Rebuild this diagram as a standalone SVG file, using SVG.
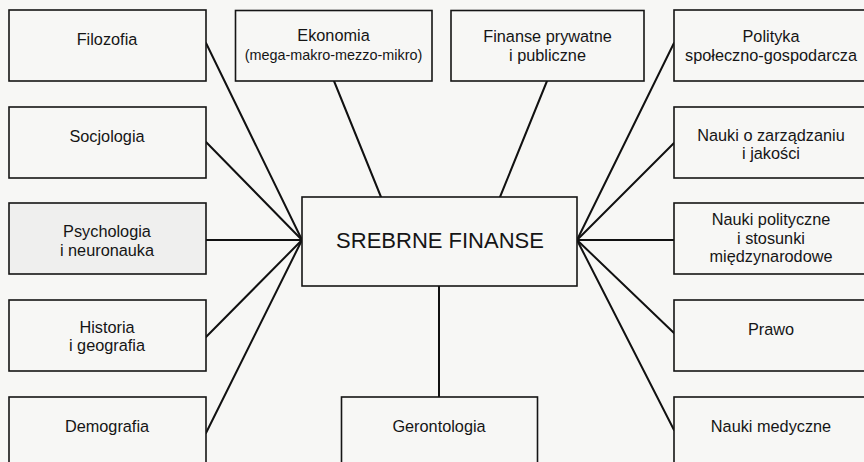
<svg xmlns="http://www.w3.org/2000/svg" width="864" height="462" viewBox="0 0 864 462">
  <style>
    .bg { fill: #f7f7f5; }
    .box { fill: #f7f7f5; stroke: #151515; stroke-width: 1.6; }
    .box.shade { fill: #efefee; }
    .lbl { font-family: "Liberation Sans", Arial, sans-serif; font-size: 16.3px; fill: #151515; text-anchor: middle; }
    .lbl.small { font-size: 14.4px; }
    .lbl.big { font-size: 22px; }
    .conn line { stroke: #111; stroke-width: 2; stroke-linecap: round; }
  </style>
  <rect class="bg" x="0" y="0" width="864" height="462"/>

  <!-- connectors: spokes from the central node -->
  <g id="connectors" class="conn">
    <line x1="206" y1="43" x2="302" y2="240"/>
    <line x1="206" y1="142" x2="302" y2="240"/>
    <line x1="206" y1="240" x2="302" y2="240"/>
    <line x1="206" y1="337" x2="302" y2="240"/>
    <line x1="206" y1="433" x2="302" y2="240"/>
    <line x1="334" y1="81" x2="381" y2="197"/>
    <line x1="547" y1="81" x2="500" y2="197"/>
    <line x1="439" y1="286" x2="439" y2="397"/>
    <line x1="674" y1="43" x2="577" y2="240"/>
    <line x1="674" y1="143" x2="577" y2="240"/>
    <line x1="674" y1="240" x2="577" y2="240"/>
    <line x1="674" y1="333" x2="577" y2="240"/>
    <line x1="674" y1="430" x2="577" y2="240"/>
  </g>

  <!-- central node -->
  <g id="srebrne-finanse">
    <rect class="box" x="302" y="197" width="275" height="89"/>
    <text class="lbl big" x="440" y="248">SREBRNE FINANSE</text>
  </g>

  <!-- left column -->
  <g id="filozofia">
    <rect class="box" x="9" y="10" width="197" height="71"/>
    <text class="lbl" x="107" y="45">Filozofia</text>
  </g>
  <g id="socjologia">
    <rect class="box" x="9" y="107" width="197" height="71"/>
    <text class="lbl" x="107" y="142">Socjologia</text>
  </g>
  <g id="psychologia">
    <rect class="box shade" x="9" y="203" width="197" height="71"/>
    <text class="lbl" x="107" y="237">Psychologia</text>
    <text class="lbl" x="107" y="256">i neuronauka</text>
  </g>
  <g id="historia">
    <rect class="box" x="9" y="300" width="197" height="71"/>
    <text class="lbl" x="107" y="332.5">Historia</text>
    <text class="lbl" x="107" y="351">i geografia</text>
  </g>
  <g id="demografia">
    <rect class="box" x="9" y="397" width="197" height="75"/>
    <text class="lbl" x="107" y="431.5">Demografia</text>
  </g>

  <!-- top row -->
  <g id="ekonomia">
    <rect class="box" x="235.5" y="10.5" width="196.5" height="70.5"/>
    <text class="lbl" x="333.5" y="41">Ekonomia</text>
    <text class="lbl small" x="333.5" y="60">(mega-makro-mezzo-mikro)</text>
  </g>
  <g id="finanse">
    <rect class="box" x="451" y="10.5" width="193" height="70.5"/>
    <text class="lbl" x="547.5" y="41.5">Finanse prywatne</text>
    <text class="lbl" x="547.5" y="60.5">i publiczne</text>
  </g>

  <!-- right column -->
  <g id="polityka">
    <rect class="box" x="674" y="10" width="197" height="71"/>
    <text class="lbl" x="771" y="41.5">Polityka</text>
    <text class="lbl" x="771" y="60.5">społeczno-gospodarcza</text>
  </g>
  <g id="zarzadzanie">
    <rect class="box" x="674" y="107" width="197" height="71"/>
    <text class="lbl" x="771" y="140.5">Nauki o zarządzaniu</text>
    <text class="lbl" x="771" y="159">i jakości</text>
  </g>
  <g id="nauki-polityczne">
    <rect class="box" x="674" y="203" width="197" height="71"/>
    <text class="lbl" x="771" y="225">Nauki polityczne</text>
    <text class="lbl" x="771" y="243.5">i stosunki</text>
    <text class="lbl" x="771" y="262">międzynarodowe</text>
  </g>
  <g id="prawo">
    <rect class="box" x="674" y="300" width="197" height="71"/>
    <text class="lbl" x="771" y="335">Prawo</text>
  </g>
  <g id="nauki-medyczne">
    <rect class="box" x="674" y="397" width="197" height="75"/>
    <text class="lbl" x="771" y="431.5">Nauki medyczne</text>
  </g>

  <!-- bottom -->
  <g id="gerontologia">
    <rect class="box" x="341.5" y="397" width="196" height="75"/>
    <text class="lbl" x="439" y="431.5">Gerontologia</text>
  </g>
</svg>
